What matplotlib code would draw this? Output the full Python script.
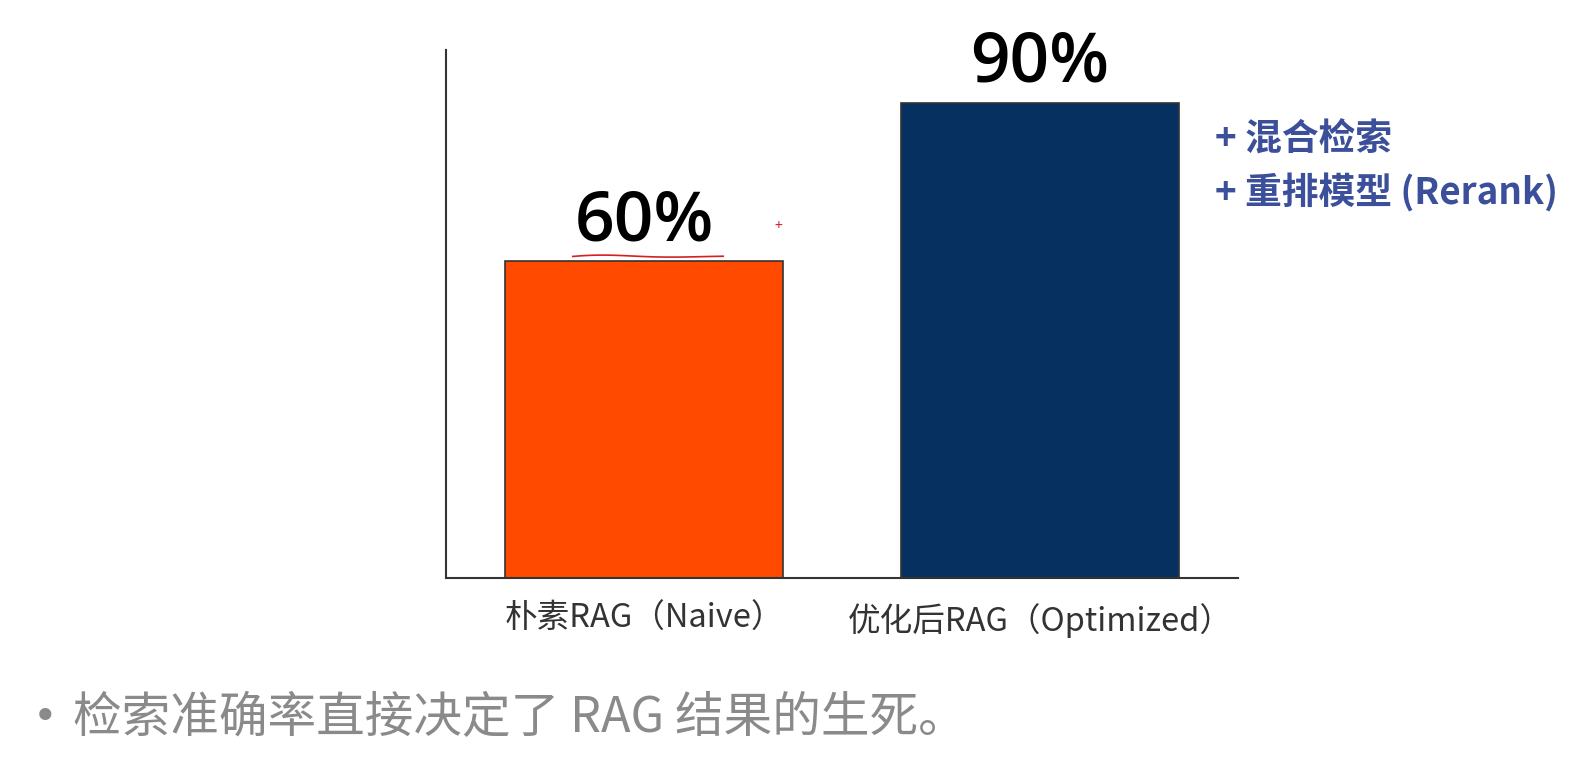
import matplotlib.pyplot as plt
import numpy as np

plt.rcParams['font.family'] = ['Noto Sans CJK SC', 'DejaVu Sans']

categories = ['朴素RAG（Naive）', '优化后RAG（Optimized）']
accuracy = [60, 90]
value_labels = ['60%', '90%']
bar_colors = ['#FF4A00', '#05305F']
improvements = ['+ 混合检索', '+ 重排模型 (Rerank)']
caption = '检索准确率直接决定了 RAG 结果的生死。'

fig = plt.figure(figsize=(15.84, 7.68), dpi=100)
ax = fig.add_axes([0.2816, 0.2474, 0.5, 0.6875])

x = np.arange(len(categories))
bars = ax.bar(x, accuracy, width=0.7, color=bar_colors,
              edgecolor='#333333', linewidth=1.2)

ax.set_xlim(-0.5, 1.5)
ax.set_ylim(0, 100)
ax.set_yticks([])
ax.set_xticks(x)
ax.set_xticklabels(categories, fontsize=23.5, color='#333333')
ax.tick_params(axis='x', length=0, pad=18)
for s in ['top', 'right']:
    ax.spines[s].set_visible(False)
for s in ['left', 'bottom']:
    ax.spines[s].set_color('#333333')
    ax.spines[s].set_linewidth(1.5)

# value labels above bars
for xi, v, lab in zip(x, accuracy, value_labels):
    ax.annotate(lab, (xi, v), xytext=(0, 3), textcoords='offset points',
                ha='center', va='bottom', fontsize=50, fontweight='semibold',
                family=['Open Sans', 'DejaVu Sans'], color='#000000')

# red hand-drawn underline and small mark near the 60% label
ux = np.linspace(-0.18, 0.2, 40)
uy = accuracy[0] + 0.9 + 0.35 * np.sin((ux + 0.18) * 18) * np.exp(-(ux + 0.18) * 4)
ax.plot(ux, uy, color='#D62020', lw=1.2, clip_on=False)
ax.text(0.34, accuracy[0] + 6.7, '+', color='#D62020', fontsize=10,
        ha='center', va='center')

# improvement notes to the right of optimized bar
for i, t in enumerate(improvements):
    fig.text(1215 / 1584, 1 - (140 + 52 * i) / 768, t, fontsize=26.5,
             fontweight='bold', color='#3B4F9A', ha='left', va='center')

# bullet caption
fig.text(45 / 1584, 1 - 718 / 768, '•', fontsize=30, color='#8A8A8A',
         family=['DejaVu Sans'], ha='center', va='center')
fig.text(73 / 1584, 1 - 718 / 768, caption, fontsize=35, color='#8A8A8A',
         ha='left', va='center')

fig.savefig('out.png', dpi=100)
